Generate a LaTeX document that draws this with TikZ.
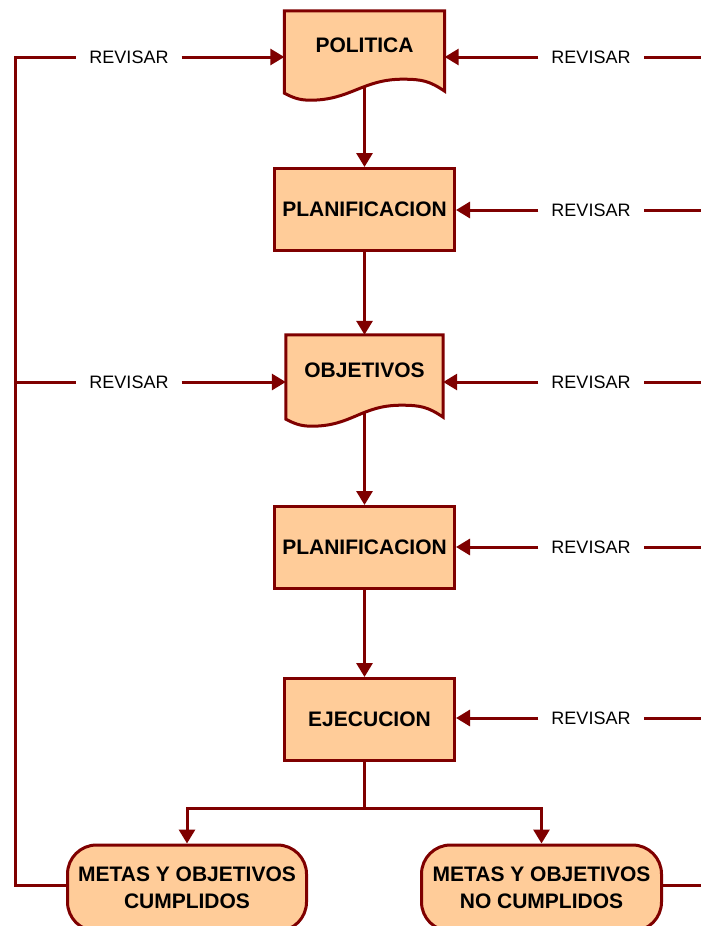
\documentclass[tikz,border=0pt]{standalone}
\usepackage{fontspec}
\setmainfont{Liberation Sans}
\usetikzlibrary{arrows.meta,backgrounds}
\definecolor{flowred}{HTML}{7F0000}
\definecolor{boxfill}{HTML}{FFCC99}
\tikzset{
  boxtext/.style={font=\fontsize{21}{27}\selectfont\bfseries, inner sep=0pt},
  box/.style={boxtext, draw=flowred, line width=3pt, fill=boxfill},
  docbox/.style={boxtext},
  terminal/.style={box, rounded corners=29pt, align=center},
  revisar/.style={font=\fontsize{18}{20}\selectfont, inner xsep=13pt, inner ysep=2pt},
  line/.style={draw=flowred, line width=3pt},
  flow/.style={line, -{Triangle[length=14pt,width=16pt]}},
}
% document symbol round a named node
\newcommand\docoutline[1]{%
  \draw[line, fill=boxfill]
    ([yshift=-14pt]#1.south west) -- (#1.north west) -- (#1.north east)
    -- ([yshift=-12pt]#1.south east)
    .. controls +(-15,-10) and +(20,0) .. ([xshift=-42pt]#1.south east)
    .. controls +(-40,0) and +(40,0) .. ([xshift=26pt,yshift=-21pt]#1.south west)
    .. controls +(-12,0) and +(8,4) .. ([yshift=-14pt]#1.south west) -- cycle;
}
\begin{document}
\begin{tikzpicture}[x=1pt,y=-1pt]
  \useasboundingbox (0,0) rectangle (701,926);

  % main column
  \node[docbox, minimum width=160pt, minimum height=68pt] (pol) at (364.5,45) {POLITICA};
  \node[box, minimum width=180pt, minimum height=82pt] (pla1) at (364.5,209.5) {PLANIFICACION};
  \node[docbox, minimum width=157pt, minimum height=70pt] (obj) at (364.5,370) {OBJETIVOS};
  \node[box, minimum width=180pt, minimum height=82pt] (pla2) at (364.5,547.5) {PLANIFICACION};
  \node[box, minimum width=170pt, minimum height=82pt] (eje) at (369.5,719.5) {EJECUCION};

  % results
  \node[terminal, minimum width=239pt, minimum height=86pt] (met1) at (187,888) {METAS Y OBJETIVOS\\CUMPLIDOS};
  \node[terminal, minimum width=240pt, minimum height=86pt] (met2) at (541.5,888) {METAS Y OBJETIVOS\\NO CUMPLIDOS};

  % review labels
  \node[revisar] (rvl1) at (129,57) {REVISAR};
  \node[revisar] (rvl2) at (129,382) {REVISAR};
  \foreach \n/\y in {1/57,2/210,3/382,4/547,5/718} {
    \node[revisar] (rvr\n) at (591,\y) {REVISAR};
    \coordinate (r\n) at (701,\y);
  }
  \coordinate (r6) at (701,885);
  \coordinate (l1) at (15,57);
  \coordinate (l2) at (15,382);
  \coordinate (split) at (364.5,808);

  \begin{pgfonlayer}{background}
    \fill[white] (0,0) rectangle (701,926);
    \draw[flow] (pol.south) -- (pla1.north);
    \draw[flow] (pla1.south) -- (obj.north);
    \draw[flow] (obj.south) -- (pla2.north);
    \draw[flow] (pla2.south) -- (pla2.south |- eje.north);
    \draw[line] (pla2.south |- eje.south) -- (split);
    \draw[flow] (split) -| (met1.north);
    \draw[flow] (split) -| (met2.north);

    % left loop
    \draw[line] (met1.west |- r6) -| (l1) -- (rvl1);
    \draw[line] (l2) -- (rvl2);
    \draw[flow] (rvl1) -- (pol.west |- rvl1);
    \draw[flow] (rvl2) -- (obj.west |- rvl2);

    % right loop
    \draw[line] (met2.east |- r6) -- (r6);
    \foreach \n/\t in {1/pol,2/pla1,3/obj,4/pla2,5/eje} {
      \draw[line] (r\n) -- (rvr\n);
      \draw[flow] (rvr\n) -- (\t.east |- rvr\n);
    }

    \docoutline{pol}
    \docoutline{obj}
  \end{pgfonlayer}
\end{tikzpicture}
\end{document}
